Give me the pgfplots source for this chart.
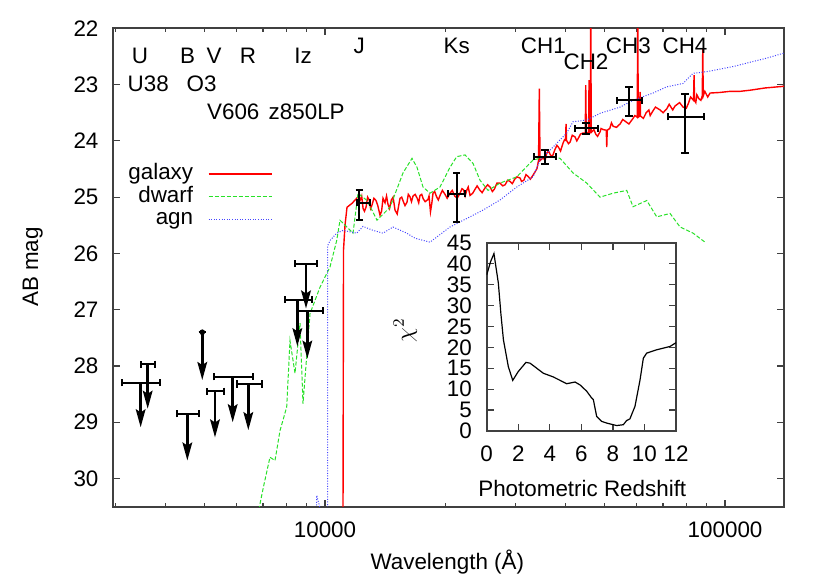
\documentclass[border=0pt]{standalone}
\usepackage{pgfplots}
\usepackage{pgfplotstable}
\pgfplotsset{compat=1.18}
\usepackage{fontspec}
\setmainfont{Liberation Sans}
\usetikzlibrary{arrows.meta}
\definecolor{galc}{RGB}{255,0,0}
\definecolor{dwfc}{RGB}{40,225,40}
\definecolor{agnc}{RGB}{70,70,255}
\definecolor{axgray}{RGB}{64,64,64}

\pgfplotstableread{
x y
11092 30.57
11124 25.94
11220 25.50
11350 25.18
11682 25.11
12000 25.02
12100 25.12
12232 25.06
12350 24.98
12450 25.20
12550 25.25
12662 25.18
12780 25.00
12900 25.05
13000 25.20
13107 25.14
13250 25.02
13412 25.06
13550 25.15
13725 25.32
13850 25.25
13964 25.02
14125 25.10
14250 24.98
14371 25.13
14500 25.20
14650 25.05
14800 25.00
14962 25.23
15150 25.30
15399 25.02
15550 25.00
15700 25.08
15850 25.15
16032 25.09
16150 24.95
16300 24.99
16450 25.08
16596 24.98
16800 24.95
17000 25.02
17150 25.10
17278 24.97
17450 24.95
17600 25.03
17800 25.08
18092 25.04
18200 24.98
18350 25.26
18500 25.10
18621 24.93
18800 24.90
19000 24.99
19200 25.05
19387 24.97
19650 24.88
19953 24.95
20200 25.02
20535 24.93
20800 24.88
21100 24.98
21400 25.02
21752 24.93
22000 24.85
22200 24.87
22400 24.98
22607 24.88
22800 24.82
23041 24.97
23400 24.93
23714 24.86
24000 24.80
24406 24.88
24700 24.92
25100 24.84
25500 24.78
25852 24.82
26200 24.90
26500 24.86
26900 24.75
27384 24.75
27800 24.80
28200 24.78
28600 24.70
29007 24.72
29400 24.76
29800 24.68
30200 24.64
30726 24.66
31000 24.72
31400 24.70
31800 24.60
32173 24.63
32600 24.68
33113 24.61
33500 24.55
33884 24.49
34178 24.35
34336 23.07
34475 24.35
35100 24.30
35500 24.35
35831 24.22
36200 24.18
36600 24.25
37000 24.28
37584 24.15
38000 24.08
38400 24.12
38800 24.18
39355 24.04
39700 23.98
39925 23.99
40041 23.70
40156 23.99
40600 24.05
41000 24.02
41500 23.90
42170 23.93
42600 24.00
43000 23.95
43500 23.88
44157 23.86
44720 23.86
44849 23.01
44978 23.86
45577 23.85
45709 22.92
45840 23.85
46026 23.85
46159 21.67
46291 23.85
47000 23.80
47500 23.88
48000 23.92
48697 23.84
49000 23.78
49600 23.80
50466 23.81
50611 24.11
50757 23.81
51500 23.78
52000 23.68
52500 23.74
53500 23.76
54639 23.70
55500 23.62
56500 23.66
57500 23.70
58884 23.60
59500 23.55
60325 23.58
60499 21.67
60674 23.58
61128 23.56
61306 23.13
61482 23.56
62500 23.60
63500 23.50
64500 23.45
65000 23.55
66000 23.47
67000 23.40
68786 23.45
70000 23.50
71500 23.43
72500 23.35
74000 23.45
75000 23.38
77000 23.32
78524 23.40
80000 23.42
81000 23.33
82000 23.22
83401 23.28
83654 22.83
83894 23.28
84500 23.32
85000 23.18
86000 23.25
87000 23.28
87700 23.20
87952 22.36
88206 23.20
89000 23.12
90500 23.22
91728 23.15
97000 23.14
102920 23.12
109000 23.12
115480 23.10
125890 23.06
140440 23.03
}\galaxy

\pgfplotstableread{
x y
6800 30.66
6879 30.45
7011 30.16
7286 29.62
7499 29.68
7718 29.15
8021 28.73
8175 27.55
8414 28.13
8660 27.24
8810 28.67
9173 27.07
9716 26.60
10292 26.24
10697 25.77
10902 25.41
11749 25.64
12092 24.93
12735 25.06
13490 25.41
14537 25.18
15668 24.57
16501 24.31
16982 24.47
17579 24.82
18302 24.93
19387 24.82
20535 24.47
21341 24.28
22387 24.25
23442 24.40
24406 24.70
25559 24.88
27384 24.75
30146 24.64
33113 24.34
35831 24.28
38679 24.31
41687 24.57
45108 24.75
48697 25.00
52481 24.93
56784 24.88
58884 25.17
63725 25.06
67490 25.35
72862 25.29
77179 25.53
83176 25.64
89125 25.80
}\dwarf

\pgfplotstableread{
x y
9534 30.57
9534 30.30
9605 30.39
9716 30.52
10157 30.60
10157 25.86
10292 25.77
10697 25.64
11092 25.59
12001 25.64
12445 25.52
13183 25.59
13964 25.64
14791 25.53
16004 25.64
16788 25.73
18302 25.80
20535 25.53
22607 25.38
24831 25.23
27384 25.05
30146 24.82
33113 24.64
34475 24.34
37154 24.11
40202 23.86
41687 23.66
45108 23.63
48697 23.51
54639 23.40
58884 23.28
66069 23.15
71517 23.04
78524 22.98
83176 22.80
90000 22.77
104713 22.68
117490 22.59
127130 22.53
140440 22.44
}\agn

\pgfplotstableread{
x y exm exp eym eyp
12171 25.10 171 786 0.22 0.31
21341 24.94 1006 1046 0.37 0.51
35481 24.28 2111 2322 0.11 0.13
44927 23.78 2757 3136 0.09 0.10
57544 23.28 3929 4360 0.24 0.28
79433 23.57 7285 9181 0.40 0.64
}\detect

\pgfplotstableread{
x y exm exp dy
3461 28.30 358 407 0.79
3604 27.97 143 154 0.79
4528 28.85 270 324 0.83
4934 27.40 0 0 0.85
5309 28.45 248 292 0.82
5878 28.19 600 741 0.81
6431 28.32 417 515 0.82
8964 26.18 550 603 0.80
8528 26.82 585 735 0.83
9033 27.02 456 870 0.85
}\ulim

\pgfplotstableread{
z c
0 37.3
0.25 40.5
0.46 42.4
0.74 35.3
0.9 28.0
1.06 21.8
1.37 15.4
1.65 12.1
2.0 14.2
2.49 16.4
2.75 16.2
3.59 13.8
4.23 12.9
5.07 11.3
5.6 11.7
5.92 11.0
6.34 9.5
6.65 7.9
6.76 7.5
6.97 3.5
7.29 2.3
7.6 1.9
8.24 1.3
8.66 1.5
8.87 2.5
9.08 2.9
9.4 5.9
9.72 12.2
9.93 17.4
10.14 18.6
10.77 19.4
11.62 20.2
12 21.1
}\chisq

\begin{document}
\fontsize{11.2}{13.4}\selectfont
\begin{tikzpicture}
\path[use as bounding box] (-56.65pt,-37.15pt) rectangle (358.35pt,253.35pt);
\pgfplotsset{
  gpstyle/.style={
    axis line style={line width=1pt, axgray},
    every tick/.style={axgray, line width=0.6pt},
    major tick length=3.5pt, minor tick length=2pt,
    tick align=inside,
    /pgf/number format/assume math mode=true,
    yticklabel style={xshift=-3.5pt},
    xticklabel style={yshift=-3.5pt},
  }
}
\begin{axis}[gpstyle,
  at={(0pt,0pt)}, anchor=south west,
  scale only axis, width=335.35pt, height=239.2pt,
  xmode=log, xmin=2957, xmax=140400,
  ymin=22, ymax=30.5, y dir=reverse,
  ytick={22,23,...,30},
  xtick={10000,100000}, xticklabels={10000,100000},
  minor xtick={3000,4000,5000,6000,7000,8000,9000,20000,30000,40000,50000,60000,70000,80000,90000},
  xlabel={Wavelength (Å)}, ylabel={AB mag},
  xlabel style={at={(axis description cs:0.498,-0.1156)}, anchor=center},
  ylabel style={at={(axis description cs:-0.12,0.501)}, anchor=center},
  legend cell align=right, legend plot pos=right,
  legend image code/.code={\draw[#1] (0pt,0pt) -- (31.5pt,0pt);},
  legend style={draw=none, fill=none, inner sep=0pt, column sep=7pt, row sep=0pt,
    at={(axis description cs:0.2377,0.648)}, anchor=east,
    nodes={inner sep=0.4pt, text height=8pt, text depth=2.6pt}},
]
\addplot[galc, line width=0.7pt] table[x=x,y=y]{\galaxy};
\addlegendentry{galaxy}
\addplot[dwfc, line width=0.5pt, dash pattern=on 2pt off 1pt] table[x=x,y=y]{\dwarf};
\addlegendentry{dwarf}
\addplot[agnc, line width=0.5pt, dash pattern=on 0.5pt off 0.8pt] table[x=x,y=y]{\agn};
\addlegendentry{agn}

% detections: horizontal bars
\addplot[black, draw=none, mark=none, forget plot,
  error bars/.cd, x dir=both, x explicit, error mark=|,
  error bar style={line width=1pt, black, solid},
  error mark options={line width=1pt, black, mark size=1.8pt}]
  table[x=x,y=y,x error minus=exm,x error plus=exp]{\detect};
% detections: vertical bars
\addplot[black, draw=none, mark=none, forget plot,
  error bars/.cd, y dir=both, y explicit, error mark=|,
  error bar style={line width=1pt, black, solid},
  error mark options={line width=1pt, black, mark size=1.8pt}]
  table[x=x,y=y,y error minus=eym,y error plus=eyp]{\detect};

% upper limits: horizontal bars
\addplot[black, draw=none, mark=none, forget plot,
  error bars/.cd, x dir=both, x explicit, error mark=|,
  error bar style={line width=1pt, black, solid},
  error mark options={line width=1pt, black, mark size=1.8pt}]
  table[x=x,y=y,x error minus=exm,x error plus=exp]{\ulim};
% upper limits: arrows
\addplot[black, draw=none, mark=none, forget plot,
  error bars/.cd, y dir=plus, y explicit, error mark=none,
  error bar style={line width=1.3pt, black, solid, -{Stealth[length=9pt,width=4.8pt,inset=1.5pt]}}]
  table[x=x,y=y,y error plus=dy]{\ulim};
\addplot[black, only marks, mark=*, mark size=1.2pt, forget plot] coordinates {(4934,27.40)};

\node at (axis cs:3447,22.49) {U};
\node at (axis cs:4537,22.49) {B};
\node at (axis cs:5278,22.49) {V};
\node at (axis cs:6420,22.49) {R};
\node at (axis cs:8810,22.49) {Iz};
\node at (axis cs:12171,22.31) {J};
\node at (axis cs:21341,22.31) {Ks};
\node at (axis cs:35142,22.31) {CH1};
\node at (axis cs:44927,22.59) {CH2};
\node at (axis cs:57311,22.31) {CH3};
\node at (axis cs:79433,22.31) {CH4};
\node at (axis cs:3615,22.99) {U38};
\node at (axis cs:4917,22.99) {O3};
\node at (axis cs:5899,23.48) {V606};
\node at (axis cs:9000,23.48) {z850LP};
\end{axis}

\begin{axis}[gpstyle,
  at={(186.7pt,37.85pt)}, anchor=south west,
  scale only axis, width=94.65pt, height=94.15pt,
  xmin=0, xmax=12, ymin=0, ymax=45,
  xtick={0,2,...,12}, ytick={0,5,...,45},
  xlabel={Photometric Redshift}, ylabel={$\chi^2$},
  xlabel style={at={(axis description cs:0.505,-0.304)}, anchor=center},
  ylabel style={at={(axis description cs:-0.43,0.536)}, anchor=center, font=\large},
]
\addplot[black, line width=0.6pt] table[x=z,y=c]{\chisq};
\end{axis}
\end{tikzpicture}
\end{document}
